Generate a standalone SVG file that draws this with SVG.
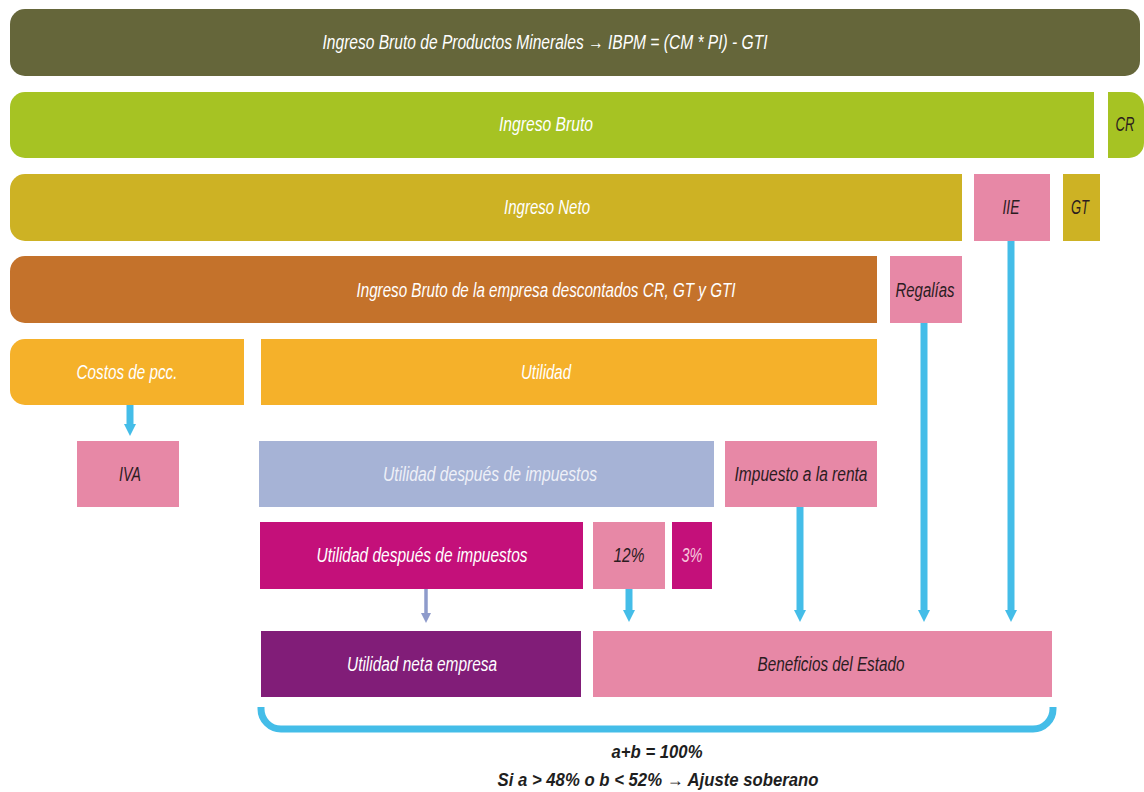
<svg xmlns="http://www.w3.org/2000/svg" width="1144" height="792" viewBox="0 0 1144 792">
<style>
.t{font-family:"Liberation Sans Narrow","Liberation Sans",Arial,sans-serif;font-style:italic;font-size:20px;text-anchor:middle}
.w{fill:#ffffff}
.d{fill:#2b1c1f}
.lb{fill:#eef0f8}
.lp{fill:#f6c6dc}
.b{font-family:"Liberation Sans Narrow","Liberation Sans",Arial,sans-serif;font-style:italic;font-weight:bold;font-size:18px;text-anchor:middle;fill:#1e1e1e}
.blue{stroke:#44bde8;stroke-width:7;fill:none}
.grey{stroke:#8e9bcb;stroke-width:3.5;fill:none}
</style>
<defs>
<marker id="ab" viewBox="0 0 12 12" refX="0" refY="6" markerWidth="12" markerHeight="12" markerUnits="userSpaceOnUse" orient="auto">
<path d="M0,0 L12,6 L0,12 Z" fill="#44bde8"/>
</marker>
<marker id="ag" viewBox="0 0 10 10" refX="0" refY="5" markerWidth="10" markerHeight="10" markerUnits="userSpaceOnUse" orient="auto">
<path d="M0,0 L10,5 L0,10 Z" fill="#8e9bcb"/>
</marker>
</defs>
<rect width="1144" height="792" fill="#ffffff"/>

<g id="n-ibpm">
<rect x="10" y="9" width="1130" height="67" rx="15" fill="#65663a"/>
<text class="t w" x="545" y="49" font-size="21" textLength="445" lengthAdjust="spacingAndGlyphs">Ingreso Bruto de Productos Minerales → IBPM = (CM * PI) - GTI</text>
</g>

<g id="n-ingreso-bruto">
<path d="M25,92 H1094 V158 H25 A15,15 0 0 1 10,143 V107 A15,15 0 0 1 25,92 Z" fill="#a6c323"/>
<text class="t w" x="546" y="131" textLength="94" lengthAdjust="spacingAndGlyphs">Ingreso Bruto</text>
</g>

<g id="n-cr">
<path d="M1108,92 H1129 A15,15 0 0 1 1144,107 V143 A15,15 0 0 1 1129,158 H1108 Z" fill="#a6c323"/>
<text class="t d" x="1125" y="131" textLength="19" lengthAdjust="spacingAndGlyphs">CR</text>
</g>

<g id="n-ingreso-neto">
<path d="M25,174 H962 V241 H25 A15,15 0 0 1 10,226 V189 A15,15 0 0 1 25,174 Z" fill="#cdb224"/>
<text class="t w" x="547" y="214" textLength="86" lengthAdjust="spacingAndGlyphs">Ingreso Neto</text>
</g>

<g id="n-iie">
<rect x="974" y="174" width="76" height="67" fill="#e788a6"/>
<text class="t d" x="1011" y="214" textLength="17" lengthAdjust="spacingAndGlyphs">IIE</text>
</g>

<g id="n-gt">
<rect x="1063" y="174" width="37" height="67" fill="#cdb224"/>
<text class="t d" x="1080" y="214" textLength="18" lengthAdjust="spacingAndGlyphs">GT</text>
</g>

<g id="n-ib-empresa">
<path d="M25,256 H877 V323 H25 A15,15 0 0 1 10,308 V271 A15,15 0 0 1 25,256 Z" fill="#c4722b"/>
<text class="t w" x="546" y="297" textLength="379" lengthAdjust="spacingAndGlyphs">Ingreso Bruto de la empresa descontados CR, GT y GTI</text>
</g>

<g id="n-regalias">
<rect x="890" y="256" width="72" height="67" fill="#e788a6"/>
<text class="t d" x="925" y="297" textLength="59" lengthAdjust="spacingAndGlyphs">Regalías</text>
</g>

<g id="n-costos">
<path d="M25,339 H244 V405 H25 A15,15 0 0 1 10,390 V354 A15,15 0 0 1 25,339 Z" fill="#f5b12a"/>
<text class="t w" x="127" y="379" textLength="101" lengthAdjust="spacingAndGlyphs">Costos de pcc.</text>
</g>

<g id="n-utilidad">
<rect x="261" y="339" width="616" height="66" fill="#f5b12a"/>
<text class="t w" x="546" y="379" textLength="50" lengthAdjust="spacingAndGlyphs">Utilidad</text>
</g>

<g id="n-iva">
<rect x="77" y="441" width="102" height="66" fill="#e788a6"/>
<text class="t d" x="130" y="481" textLength="22" lengthAdjust="spacingAndGlyphs">IVA</text>
</g>

<g id="n-utilidad-di">
<rect x="259" y="441" width="455" height="66" fill="#a6b3d6"/>
<text class="t lb" x="490" y="481" textLength="214" lengthAdjust="spacingAndGlyphs">Utilidad después de impuestos</text>
</g>

<g id="n-impuesto">
<rect x="725" y="441" width="152" height="66" fill="#e788a6"/>
<text class="t d" x="801" y="481" textLength="133" lengthAdjust="spacingAndGlyphs">Impuesto a la renta</text>
</g>

<g id="n-utilidad-di2">
<rect x="260" y="522" width="323" height="67" fill="#c4107a"/>
<text class="t w" x="422" y="562" textLength="211" lengthAdjust="spacingAndGlyphs">Utilidad después de impuestos</text>
</g>

<g id="n-12">
<rect x="593" y="522" width="72" height="67" fill="#e788a6"/>
<text class="t d" x="629" y="562" textLength="31" lengthAdjust="spacingAndGlyphs">12%</text>
</g>

<g id="n-3">
<rect x="672" y="522" width="40" height="67" fill="#c4107a"/>
<text class="t lp" x="692" y="562" textLength="21" lengthAdjust="spacingAndGlyphs">3%</text>
</g>

<g id="n-utilidad-neta">
<rect x="261" y="631" width="320" height="66" fill="#811d78"/>
<text class="t w" x="422" y="671" textLength="150" lengthAdjust="spacingAndGlyphs">Utilidad neta empresa</text>
</g>

<g id="n-beneficios">
<rect x="593" y="631" width="459" height="66" fill="#e788a6"/>
<text class="t d" x="831" y="671" textLength="147" lengthAdjust="spacingAndGlyphs">Beneficios del Estado</text>
</g>

<g id="connectors">
<line class="blue" x1="130" y1="405" x2="130" y2="424" marker-end="url(#ab)"/>
<line class="grey" x1="426" y1="589" x2="426" y2="613" marker-end="url(#ag)"/>
<line class="blue" x1="629" y1="589" x2="629" y2="610" marker-end="url(#ab)"/>
<line class="blue" x1="800" y1="507" x2="800" y2="610" marker-end="url(#ab)"/>
<line class="blue" x1="924" y1="323" x2="924" y2="610" marker-end="url(#ab)"/>
<line class="blue" x1="1011" y1="241" x2="1011" y2="610" marker-end="url(#ab)"/>
</g>

<g id="brace">
<path class="blue" d="M261,707 V709 A20,20 0 0 0 281,729 H1033 A20,20 0 0 0 1053,709 V707"/>
</g>

<g id="summary">
<text class="b" x="657" y="758" textLength="91" lengthAdjust="spacingAndGlyphs">a+b = 100%</text>
<text class="b" x="658" y="786" textLength="321" lengthAdjust="spacingAndGlyphs">Si a &gt; 48% o b &lt; 52% → Ajuste soberano</text>
</g>
</svg>
